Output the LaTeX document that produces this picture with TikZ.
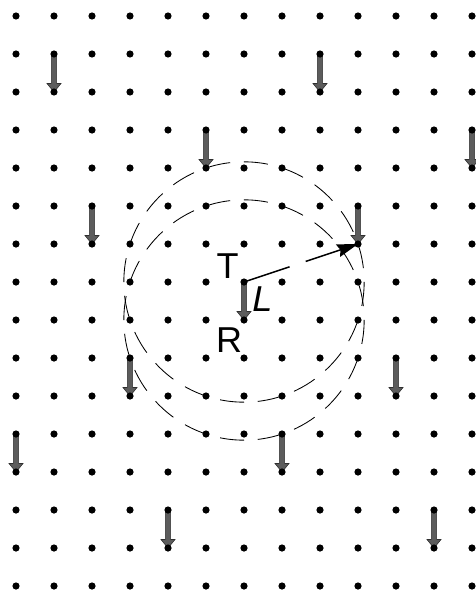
\documentclass[tikz,border=0pt]{standalone}
\usepackage{fontspec}
\setmainfont{Liberation Sans}
\usetikzlibrary{calc,arrows.meta,backgrounds}
\definecolor{arrfill}{gray}{0.36}
\definecolor{arredge}{gray}{0.18}
\begin{document}
\begin{tikzpicture}[x=1pt,y=-1pt,
  dot/.style={circle,fill=black,inner sep=0pt,minimum size=7.2pt},
  dashc/.style={draw=black,line width=0.85pt,dash pattern=on 24pt off 13.75pt},
  garrow/.style={fill=arrfill,draw=arredge,line width=0.6pt,line join=miter,
    to path={($(\tikztostart)+(-2.6,0)$) -- ($(\tikztotarget)+(-2.6,-8.5)$)
      -- ($(\tikztotarget)+(-7,-8.5)$) -- (\tikztotarget)
      -- ($(\tikztotarget)+(7,-8.5)$) -- ($(\tikztotarget)+(2.6,-8.5)$)
      -- ($(\tikztostart)+(2.6,0)$) -- cycle}},
  larrow/.style={draw=black,line width=1.5pt,
    dash pattern=on 48pt off 17pt on 300pt,
    -{Stealth[length=21pt,width=13pt,inset=2.5pt]}},
  lbl/.style={inner sep=0pt,font=\fontsize{36}{36}\selectfont}]
\useasboundingbox (0,0) rectangle (475,592);
\foreach \c in {0,...,12}{
  \foreach \r in {0,...,15}{
    \node[dot] (d-\c-\r) at ({16+38*\c},{16+38*\r}) {};
  }
}
\begin{scope}[on background layer]
  \draw[dashc] (d-6-7.center) circle[radius=120.17];
  \draw[dashc] (d-6-8.center) circle[radius=120.17];
  \foreach \c/\r/\s in {1/1/2,8/1/2,5/3/4,12/3/4,2/5/6,9/5/6,6/7/8,3/9/10,10/9/10,0/11/12,7/11/12,4/13/14,11/13/14}{
    \path[garrow] (d-\c-\r.center) to (d-\c-\s.center);
  }
\end{scope}
\draw[larrow] (d-6-7.center) -- (d-9-6.center);
\node[lbl] (T) at (227.5,266) {T};
\node[lbl] (R) at (229,340.5) {R};
\node[lbl] (L) at (262.5,299.5) {\itshape L};
\end{tikzpicture}
\end{document}
